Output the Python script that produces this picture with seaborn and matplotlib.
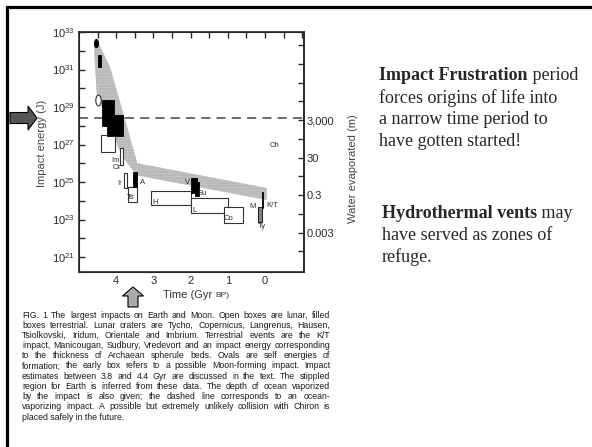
import numpy as np
import pandas as pd
import matplotlib
matplotlib.use("Agg")
import matplotlib.pyplot as plt
import seaborn as sns
from matplotlib.path import Path
from matplotlib.patches import FancyArrow
from matplotlib.ticker import FixedLocator, FixedFormatter, NullFormatter

# ---- data (time in Gyr BP, energy as log10 J) ----
terr_names = ["moon", "big1", "big2", "A", "V", "Su", "M", "K/T"]
terr_t_old = [4.50, 4.37, 4.24, 3.54, 1.98, 1.88, 0.19, 0.075]
terr_t_young = [4.42, 4.07, 3.81, 3.43, 1.82, 1.77, 0.08, 0.045]
terr_lo = [31.13, 27.99, 27.45, 24.73, 24.40, 24.25, 22.87, 23.60]
terr_hi = [31.77, 29.37, 28.57, 25.53, 25.20, 25.00, 23.67, 24.45]

lunar_names = ["early", "Im", "Ir", "Ts", "H", "L", "Co"]
lunar_t_old = [4.40, 3.89, 3.78, 3.67, 3.06, 1.98, 1.10]
lunar_t_young = [4.02, 3.81, 3.70, 3.43, 1.98, 0.99, 0.59]
lunar_lo = [26.60, 25.90, 24.68, 23.93, 23.77, 23.35, 22.80]
lunar_hi = [27.50, 26.80, 25.48, 24.73, 24.52, 24.15, 23.67]

oval_t = [4.53, 4.50]
oval_e = [32.41, 29.37]
oval_filled = [True, False]

band_top_t = [4.52, 4.16, 3.43, -0.05]
band_top_e = [32.60, 31.10, 26.00, 24.68]
band_bot_t = [4.60, 4.52, 3.85, 3.45, -0.05]
band_bot_e = [32.25, 29.60, 26.40, 25.35, 24.04]

ocean_vapor_e = 28.4

labels = ["Im", "Or", "Ir", "A", "Ts", "H", "V", "Su", "L", "Co", "M", "K/T", "Ty", "Ch"]
label_t = [4.02, 3.97, 3.91, 3.30, 3.62, 2.95, 2.09, 1.69, 1.90, 0.97, 0.32, -0.19, 0.08, -0.27]
label_e = [26.17, 25.75, 24.90, 25.00, 24.15, 23.93, 24.95, 24.41, 23.50, 23.08, 23.72, 23.77, 22.60, 26.97]

water_ticks = [3000, 30, 0.3, 0.003]
water_labels = ["3,000", "30", "0.3", "0.003"]
water_ref_e = 28.3  # energy at which 3,000 m of water is evaporated

caption = [
    "FIG. 1 The largest impacts on Earth and Moon. Open boxes are lunar, filled",
    "boxes terrestrial. Lunar craters are Tycho, Copernicus, Langrenus, Hausen,",
    "Tsiolkovski, Iridum, Orientale and Imbrium. Terrestrial events are the K/T",
    "impact, Manicougan, Sudbury, Vredevort and an impact energy corresponding",
    "to the thickness of Archaean spherule beds. Ovals are self energies of",
    "formation; the early box refers to a possible Moon-forming impact. Impact",
    "estimates between 3.8 and 4.4 Gyr are discussed in the text. The stippled",
    "region for Earth is inferred from these data. The depth of ocean vaporized",
    "by the impact is also given; the dashed line corresponds to an ocean-",
    "vaporizing impact. A possible but extremely unlikely collision with Chiron is",
    "placed safely in the future.",
]

terr = pd.DataFrame({"name": terr_names, "t_old": terr_t_old, "t_young": terr_t_young,
                     "lo": terr_lo, "hi": terr_hi})
lunar = pd.DataFrame({"name": lunar_names, "t_old": lunar_t_old, "t_young": lunar_t_young,
                      "lo": lunar_lo, "hi": lunar_hi})

sns.set_style("white")
plt.rcParams["font.family"] = ["Liberation Sans", "DejaVu Sans"]
plt.rcParams["mathtext.fontset"] = "custom"
plt.rcParams["mathtext.rm"] = "Liberation Sans"
plt.rcParams["hatch.linewidth"] = 1.4

ink = "#2a2a2a"
e_min, e_max = 20.2, 33.0
fig = plt.figure(figsize=(5.92, 4.47), dpi=100)
ax = fig.add_axes([79 / 592, 1 - 272 / 447, 225 / 592, 240 / 447])
ax.set_yscale("log")
ax.set_xlim(5.0, -1.05)
ax.set_ylim(10.0 ** e_min, 10.0 ** e_max)

# stippled region for Earth
poly_t = band_top_t + band_bot_t[::-1]
poly_e = np.array(band_top_e + band_bot_e[::-1])
ax.fill(poly_t, 10.0 ** poly_e, facecolor="#d2d2d2", edgecolor="#a6a6a6",
        hatch="......", linewidth=0, zorder=1)

# dashed ocean-vaporizing line
ax.axhline(10.0 ** ocean_vapor_e, color="#444444", lw=1.1, dashes=(6, 4), zorder=2)

# lunar (open) and terrestrial (filled) boxes
for df, face, edge, lw in [(lunar, "white", "#333333", 0.8), (terr, "black", "black", 0.6)]:
    ax.bar((df.t_old + df.t_young) / 2, 10.0 ** df.hi - 10.0 ** df.lo, bottom=10.0 ** df.lo,
           width=df.t_old - df.t_young, facecolor=face, edgecolor=edge, linewidth=lw,
           zorder=3)
ax.patches[-2].set_facecolor("#808080")  # M drawn grey

# self energy ovals
theta = np.linspace(0, 2 * np.pi, 60)
oval = Path(np.column_stack([0.5 * np.cos(theta), np.sin(theta)]))
ovals = pd.DataFrame({"t": oval_t, "E": 10.0 ** np.array(oval_e), "filled": oval_filled})
sns.scatterplot(data=ovals[ovals.filled], x="t", y="E", marker=oval, s=36, color="black",
                edgecolor="black", linewidth=0.6, ax=ax, zorder=4)
sns.scatterplot(data=ovals[~ovals.filled], x="t", y="E", marker=oval, s=60, color="white",
                edgecolor="#333333", linewidth=0.8, ax=ax, zorder=4)

for name, t, e in zip(labels, label_t, label_e):
    ax.text(t, 10.0 ** e, name, fontsize=5.5, color=ink, ha="center", va="center", zorder=5)

# axes styling
ax.set_xlabel("")
ax.set_ylabel("")
ax.xaxis.set_major_locator(FixedLocator([4, 3, 2, 1, 0]))
ax.xaxis.set_minor_locator(FixedLocator(np.arange(-1.0, 5.0, 0.5)))
ax.yaxis.set_major_locator(FixedLocator(10.0 ** np.arange(21, 34, 2)))
ax.yaxis.set_major_formatter(FixedFormatter([rf"$10^{{{n}}}$" for n in range(21, 34, 2)]))
ax.yaxis.set_minor_locator(FixedLocator(10.0 ** np.arange(20, 34, 2)))
ax.yaxis.set_minor_formatter(NullFormatter())
ax.tick_params(which="both", direction="in", top=True, right=False, length=4,
               width=1.0, color=ink, labelsize=8, labelcolor=ink, pad=3)
for s in ax.spines.values():
    s.set_color(ink)
    s.set_linewidth(1.2)

ax2 = ax.twinx()
ax2.set_yscale("log")
ax2.set_ylim(3000 * 10.0 ** (e_min - water_ref_e), 3000 * 10.0 ** (e_max - water_ref_e))
ax2.yaxis.set_major_locator(FixedLocator(water_ticks))
ax2.yaxis.set_major_formatter(FixedFormatter(water_labels))
ax2.yaxis.set_minor_locator(FixedLocator(3.0 * 10.0 ** np.arange(-4, 8)))
ax2.yaxis.set_minor_formatter(NullFormatter())
ax2.tick_params(which="both", direction="in", length=4, width=1.0, color=ink,
                labelsize=8, labelcolor=ink, pad=2)
ax2.spines["right"].set_color(ink)
ax2.spines["right"].set_linewidth(1.2)

# overlay in pixel coordinates for slide decorations
ov = fig.add_axes([0, 0, 1, 1], zorder=-1)
ov.set_xlim(0, 592)
ov.set_ylim(447, 0)
ov.axis("off")
ov.plot([7, 7, 592], [447, 7, 7], color="black", lw=2.3, solid_joinstyle="miter")

ov.text(42, 143, "Impact energy (J)", rotation=90, fontsize=8, color="#444444",
        ha="center", va="center")
ov.text(353, 169, "Water evaporated (m)", rotation=90, fontsize=8, color="#444444",
        ha="center", va="center")

ov.add_patch(FancyArrow(10, 118, 18, 0, width=11, head_width=24, head_length=9,
                        length_includes_head=False, facecolor="#555555",
                        edgecolor="black", lw=0.8))
ov.add_patch(FancyArrow(133, 307, 0, -11, width=10, head_width=21, head_length=9,
                        length_includes_head=False, facecolor="#aaaaaa",
                        edgecolor="black", lw=0.8))

fig.canvas.draw()
rend = fig.canvas.get_renderer()

t_time = ov.text(163, 295, "Time (Gyr ", fontsize=8, color="#333333", ha="left", va="center")
bp_x = 163 + t_time.get_window_extent(rend).width
ov.text(bp_x, 295.8, "BP)", fontsize=6, color="#333333", ha="left", va="center")

# justified caption
cap_left, cap_right = 22, 330
for i, line in enumerate(caption):
    y = 315 + i * 10.2
    kw = dict(fontsize=6.35, color="#1a1a1a", ha="left", va="center")
    if i == len(caption) - 1:
        ov.text(cap_left, y, line, **kw)
        continue
    words = line.split()
    texts = [ov.text(0, y, w, **kw) for w in words]
    widths = [t.get_window_extent(rend).width for t in texts]
    gap = (cap_right - cap_left - sum(widths)) / (len(words) - 1)
    x = cap_left
    for t, w in zip(texts, widths):
        t.set_x(x)
        x += w + gap

# slide text on the right
serif = ["Liberation Serif", "DejaVu Serif"]
def rich_line(x, y, bold, rest):
    if bold:
        tb = ov.text(x, y, bold, fontsize=13, family=serif, weight="bold", va="center")
        x += tb.get_window_extent(rend).width
    ov.text(x, y, rest, fontsize=13, family=serif, va="center")

rich_line(379, 76, "Impact Frustration", " period")
rich_line(379, 98, "", "forces origins of life into")
rich_line(379, 120, "", "a narrow time period to")
rich_line(379, 142, "", "have gotten started!")
rich_line(382, 213, "Hydrothermal vents", " may")
rich_line(382, 235, "", "have served as zones of")
rich_line(382, 257, "", "refuge.")

fig.savefig("out.png", dpi=100)
